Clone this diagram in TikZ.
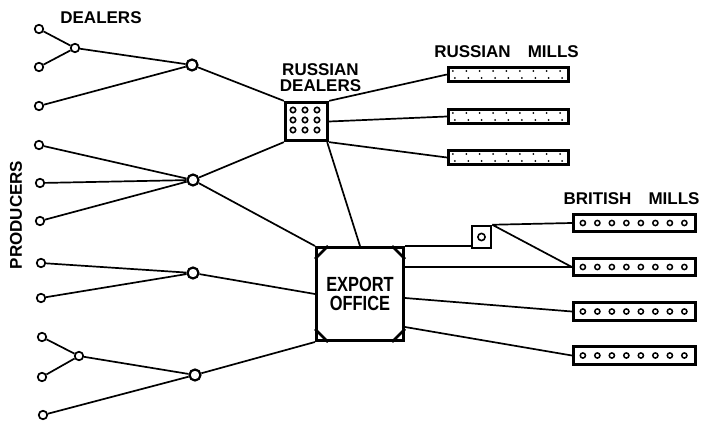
\documentclass[tikz,border=0pt]{standalone}
\usepackage{fontspec}
\setmainfont{Liberation Sans}
\newfontfamily\etroite[FakeStretch=0.8]{Liberation Sans}

\tikzset{
  prod/.style={circle, draw, fill=white, line width=1.7pt, minimum size=8.5pt, inner sep=0pt},
  negociant/.style={prod, minimum size=11pt, line width=2.2pt},
  usine/.style={rectangle, draw, fill=white, line width=2.8pt, inner sep=0pt},
  lien/.style={line width=1.7pt},
  titre/.style={font=\bfseries\fontsize{17}{16}\selectfont, inner sep=0pt, align=center},
}

\begin{document}
\begin{tikzpicture}[x=1pt,y=-1pt]
        \useasboundingbox (0,0) rectangle (701,422);

        % Producteurs
        \node[prod] (p1) at (39,29) {};
        \node[prod] (p2) at (39,67) {};
        \node[prod] (p3) at (39,106) {};
        \node[prod] (p4) at (39,145) {};
        \node[prod] (p5) at (40,183) {};
        \node[prod] (p6) at (40,221) {};
        \node[prod] (p7) at (41,263) {};
        \node[prod] (p8) at (41,298) {};
        \node[prod] (p9) at (42,337) {};
        \node[prod] (p10) at (42,377) {};
        \node[prod] (p11) at (43,415) {};

        % Petits et gros negociants
        \node[prod] (d1) at (75,48) {};
        \node[prod] (d2) at (79,356) {};
        \node[negociant] (g1) at (192,65) {};
        \node[negociant] (g2) at (193,180) {};
        \node[negociant] (g3) at (193,273) {};
        \node[negociant] (g4) at (195,375) {};

        % Negociants russes
        \node[usine, minimum width=42.5pt, minimum height=38.5pt] (rd) at (306.5,121.5) {};
        \foreach \a in {-12,0,12}
            \foreach \b in {-10,0,10}
                \draw[line width=1.6pt] ([shift={(\a-1.5,\b-1.5)}]rd.center) circle (2.7);

        % Filatures russes
        \node[usine, minimum width=120.5pt, minimum height=14.5pt] (rm1) at (508.5,74.5) {};
        \node[usine, minimum width=120.5pt, minimum height=14.5pt] (rm2) at (508.5,116.5) {};
        \node[usine, minimum width=120.5pt, minimum height=14.5pt] (rm3) at (508.5,157.5) {};
        \foreach \m in {rm1,rm2,rm3}
            \foreach \i in {0,...,8} {
                \fill ([shift={(6+13.4*\i,-3.5)}]\m.west) circle (1);
                \fill ([shift={(8+13.4*\i,3.5)}]\m.west) circle (1);
            }

        % Bureau d'exportation
        \node[usine, line width=3pt, minimum width=87pt, minimum height=93pt,
              font=\etroite\bfseries\fontsize{20.5}{19.5}\selectfont, align=center] (eo) at (360,294) {EXPORT\\OFFICE};
        \draw[line width=2.6pt]
            ([shift={(0,13)}]eo.north west) -- ([shift={(13,0)}]eo.north west)
            ([shift={(-13,0)}]eo.north east) -- ([shift={(0,13)}]eo.north east)
            ([shift={(0,-13)}]eo.south west) -- ([shift={(13,0)}]eo.south west)
            ([shift={(-13,0)}]eo.south east) -- ([shift={(0,-13)}]eo.south east);

        % Petite boite
        \node[usine, line width=2pt, minimum width=19.5pt, minimum height=22.5pt] (sb) at (481.5,237) {};
        \draw[line width=1.6pt] (sb.center) circle (3.6);

        % Filatures britanniques
        \node[usine, minimum width=122.5pt, minimum height=17.5pt] (bm1) at (634.5,223) {};
        \node[usine, minimum width=122.5pt, minimum height=17.5pt] (bm2) at (634.5,267) {};
        \node[usine, minimum width=122.5pt, minimum height=17.5pt] (bm3) at (634.5,311.5) {};
        \node[usine, minimum width=122.5pt, minimum height=17.5pt] (bm4) at (634.5,355.5) {};
        \foreach \m in {bm1,bm2,bm3,bm4}
            \foreach \i in {0,...,7}
                \draw[line width=1.5pt] ([shift={(11+14.5*\i,0)}]\m.west) circle (2.6);

        % Liens
        \draw[lien] (p1) -- (d1) (p2) -- (d1) (d1) -- (g1) (p3) -- (g1);
        \draw[lien] (p4) -- (g2) (p5) -- (g2) (p6) -- (g2);
        \draw[lien] (p7) -- (g3) (p8) -- (g3);
        \draw[lien] (p9) -- (d2) (p10) -- (d2) (d2) -- (g4) (p11) -- (g4);
        \draw[lien] (g1) -- (rd.north west) (g2) -- (rd.south west);
        \draw[lien] (g2) -- (eo.north west) (g3) -- (eo.west) (g4) -- (eo.south west);
        \draw[lien] (rd.north east) -- (rm1.west) (rd.east) -- (rm2.west) (rd.south east) -- (rm3.west);
        \draw[lien] ([shift={(-2,0)}]rd.south east) -- (eo.north);
        \draw[lien] (eo.north east) -- (eo.north east -| sb.west);
        \draw[lien] (sb.north east) -- (bm1.west) (sb.north east) -- (bm2.west);
        \draw[lien] (bm2.west -| eo.east) -- (bm2.west);
        \draw[lien] ([shift={(0,4)}]eo.east) -- (bm3.west);
        \draw[lien] ([shift={(0,-15)}]eo.south east) -- (bm4.west);

        % Titres
        \node[titre] (tdealers) at (101,17.5) {DEALERS};
        \node[titre, rotate=90] (tprod) at (16,215) {PRODUCERS};
        \node[titre] (trd) at (320.5,78) {RUSSIAN\\DEALERS};
        \node[titre] (trm) at (506.5,51.5) {RUSSIAN\quad MILLS};
        \node[titre] (tbm) at (631.5,198.5) {BRITISH\quad MILLS};
    \end{tikzpicture}
\end{document}
